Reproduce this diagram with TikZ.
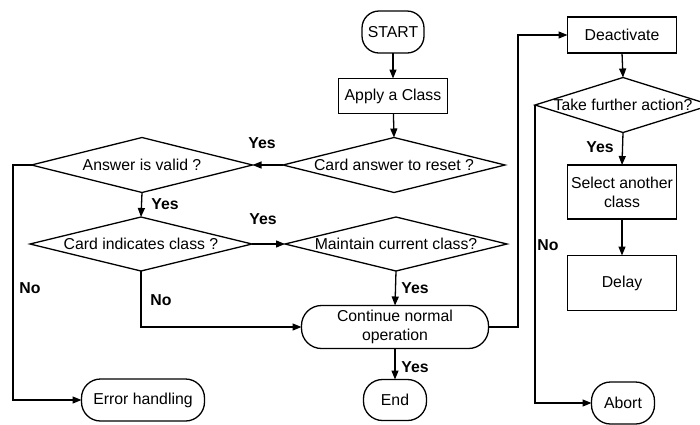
\documentclass[tikz,border=0pt]{standalone}
\usepackage{fontspec}
\setmainfont{Liberation Sans}
\usetikzlibrary{arrows.meta}
\begin{document}
\begin{tikzpicture}[x=1pt,y=-1pt,
  font=\fontsize{15.8}{19}\selectfont,
  line width=1.3pt,
  every node/.style={inner sep=0pt, outer sep=0pt},
  box/.style={draw, rectangle, align=center},
  term/.style={draw, rectangle, rounded corners=17pt, align=center},
  dia/.style={rectangle, align=center},
  lbl/.style={font=\fontsize{15.8}{19}\selectfont\bfseries},
  arr/.style={-{Triangle[length=9pt,width=7pt]}}
]
\useasboundingbox (0,0) rectangle (700,424);
% nodes
\node[term, minimum width=62pt, minimum height=42pt] (start) at (393,32) {START};
\node[box, minimum width=109pt, minimum height=35pt] (apply) at (393,96) {Apply a Class};
\node[dia, minimum width=222pt, minimum height=55pt] (reset) at (394,165) {Card answer to reset ?};
\node[dia, minimum width=221pt, minimum height=55pt] (valid) at (142,165) {Answer is valid ?};
\node[dia, minimum width=222pt, minimum height=54pt] (indic) at (141,244) {Card indicates class ?};
\node[dia, minimum width=222pt, minimum height=54pt] (maint) at (396,244) {Maintain current class?};
\node[term, minimum width=187pt, minimum height=43pt, rounded corners=20pt] (cont) at (395,327) {Continue normal\\operation};
\node[term, minimum width=63pt, minimum height=41pt, rounded corners=19pt] (end) at (395,400) {End};
\node[term, minimum width=123pt, minimum height=42pt, rounded corners=19pt] (err) at (143,400) {Error handling};
\node[box, minimum width=109pt, minimum height=36pt] (deact) at (622,35) {Deactivate};
\node[dia, minimum width=176pt, minimum height=55pt] (take) at (623,105) {Take further action?};
\node[box, minimum width=109pt, minimum height=54pt] (select) at (622,192) {Select another\\class};
\node[box, minimum width=109pt, minimum height=55pt] (delay) at (622,283) {Delay};
\node[term, minimum width=63pt, minimum height=42pt, rounded corners=19pt] (abort) at (623,403) {Abort};
% diamond outlines
\foreach \n in {reset,valid,indic,maint,take}
  \draw (\n.north) -- (\n.east) -- (\n.south) -- (\n.west) -- cycle;
% turning points
\coordinate (errturn) at (13,165);
\coordinate (contturn) at (518,327);
% connectors
\draw[arr] (start) -- (apply);
\draw[arr] (apply) -- (reset.north);
\draw[arr] (reset.west) -- (valid.east);
\draw[arr] (valid.south) -- (indic.north);
\draw[arr] (valid.west) -- (errturn) |- (err.west);
\draw[arr] (indic.east) -- (maint.west);
\draw[arr] (indic.south) |- (cont.west);
\draw[arr] (maint.south) -- (cont.north);
\draw[arr] (cont.south) -- (end.north);
\draw[arr] (cont.east) -- (contturn) |- (deact.west);
\draw[arr] (deact.south) -- (take.north);
\draw[arr] (take.south) -- (select.north);
\draw[arr] (take.west) |- (abort.west);
\draw[arr] (select.south) -- (delay.north);
% labels
\node[lbl] (l1) at (262,143) {Yes};
\node[lbl] (l2) at (165,204) {Yes};
\node[lbl] (l3) at (263,219) {Yes};
\node[lbl] (l4) at (30,288) {No};
\node[lbl] (l5) at (161,300) {No};
\node[lbl] (l6) at (415,288) {Yes};
\node[lbl] (l7) at (415,367) {Yes};
\node[lbl] (l8) at (548,245) {No};
\node[lbl] (l9) at (600,147) {Yes};
\end{tikzpicture}
\end{document}
